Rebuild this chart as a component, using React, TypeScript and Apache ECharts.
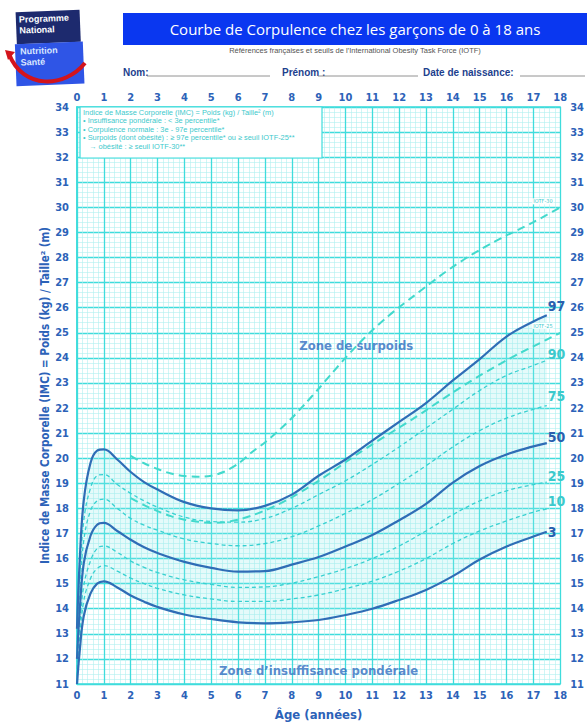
import React, { useEffect, useRef } from "react";
import * as echarts from "echarts";

// ---- Data ----
const ages = [0, 0.1, 0.25, 0.5, 0.75, 1, 1.5, 2, 2.5, 3, 4, 5, 6, 7, 8, 9, 10, 11, 12, 13, 14, 15, 16, 17, 17.5];
const p97 = [13.2, 15.9, 18.3, 19.8, 20.3, 20.35, 19.95, 19.45, 19.05, 18.75, 18.25, 18.0, 17.92, 18.1, 18.55, 19.3, 19.95, 20.7, 21.45, 22.2, 23.1, 23.95, 24.85, 25.45, 25.7];
const p90 = [12.8, 15.2, 17.5, 18.8, 19.3, 19.35, 18.95, 18.6, 18.3, 18.05, 17.65, 17.48, 17.45, 17.6, 18.0, 18.55, 19.1, 19.75, 20.45, 21.2, 21.95, 22.7, 23.3, 23.7, 23.9];
const p75 = [12.4, 14.6, 16.7, 17.9, 18.3, 18.37, 18.0, 17.6, 17.33, 17.13, 16.78, 16.6, 16.51, 16.6, 16.87, 17.3, 17.8, 18.35, 19.0, 19.7, 20.45, 21.1, 21.6, 21.95, 22.1];
const p50 = [12.0, 13.9, 15.8, 16.9, 17.35, 17.42, 17.1, 16.75, 16.45, 16.22, 15.87, 15.63, 15.48, 15.5, 15.76, 16.06, 16.48, 16.94, 17.53, 18.18, 19.03, 19.69, 20.15, 20.47, 20.6];
const p25 = [11.6, 13.3, 14.9, 15.9, 16.4, 16.5, 16.25, 15.9, 15.65, 15.44, 15.15, 14.97, 14.85, 14.87, 15.02, 15.28, 15.6, 16.0, 16.5, 17.1, 17.75, 18.3, 18.7, 18.95, 19.05];
const p10 = [11.3, 12.8, 14.3, 15.2, 15.6, 15.72, 15.5, 15.22, 15.0, 14.81, 14.55, 14.39, 14.29, 14.29, 14.39, 14.55, 14.8, 15.1, 15.5, 16.0, 16.6, 17.1, 17.5, 17.85, 17.98];
const p3 = [11.0, 12.3, 13.7, 14.6, 15.0, 15.09, 14.85, 14.53, 14.28, 14.07, 13.77, 13.59, 13.46, 13.42, 13.46, 13.55, 13.75, 14.0, 14.35, 14.75, 15.3, 15.96, 16.48, 16.88, 17.07];

const iotfAges = [2, 2.5, 3, 3.5, 4, 4.5, 5, 5.5, 6, 6.5, 7, 7.5, 8, 8.5, 9, 9.5, 10, 10.5, 11, 11.5, 12, 12.5, 13, 13.5, 14, 14.5, 15, 15.5, 16, 16.5, 17, 17.5, 18];
const iotf25 = [18.41, 18.13, 17.89, 17.69, 17.55, 17.47, 17.42, 17.45, 17.55, 17.71, 17.92, 18.16, 18.44, 18.76, 19.1, 19.46, 19.84, 20.2, 20.55, 20.89, 21.22, 21.56, 21.91, 22.27, 22.62, 22.96, 23.29, 23.6, 23.9, 24.19, 24.46, 24.73, 25.0];
const iotf30 = [20.09, 19.8, 19.57, 19.39, 19.29, 19.26, 19.3, 19.47, 19.78, 20.23, 20.63, 21.09, 21.6, 22.17, 22.77, 23.39, 24.0, 24.57, 25.1, 25.58, 26.02, 26.43, 26.84, 27.25, 27.63, 27.98, 28.3, 28.6, 28.88, 29.14, 29.41, 29.7, 30.0];

const ageRange = [0, 18];
const bmiRange = [11, 34];

const zoneLabels = [
  { text: "Zone de surpoids", age: 10.4, bmi: 24.5 },
  { text: "Zone d\u2019insuffisance pondérale", age: 9, bmi: 11.55 },
];

const legendLines = [
  "Indice de Masse Corporelle (IMC) = Poids (kg) / Taille\u00b2 (m)",
  "\u2022 Insuffisance pondérale : < 3e percentile*",
  "\u2022 Corpulence normale : 3e - 97e percentile*",
  "\u2022 Surpoids (dont obésité) : \u2265 97e percentile* ou \u2265 seuil IOTF-25**",
  "   \u2192 obésité : \u2265 seuil IOTF-30**",
];

// ---- Styles ----
const DARK = "#2f6db6";
const LIGHT = "#38d0d0";
const CYAN = "#3fdcdc";
const LABEL = "#2c62b8";
const NARROW = "'Liberation Sans Narrow', 'DejaVu Sans Condensed', 'Liberation Sans', sans-serif";

const pair = (xs: number[], ys: number[]) => xs.map((x, i) => [x, ys[i]]);

const percentiles = [
  { name: "3", data: p3, dark: true, off: [0, 0] },
  { name: "10", data: p10, dark: false, off: [0, -8] },
  { name: "25", data: p25, dark: false, off: [0, -6] },
  { name: "50", data: p50, dark: true, off: [0, -6] },
  { name: "75", data: p75, dark: false, off: [0, -10] },
  { name: "90", data: p90, dark: false, off: [0, -6] },
  { name: "97", data: p97, dark: true, off: [0, -9] },
];

function buildOption(): any {
  const series: any[] = [];
  // Band between 3rd and 97th percentile: stacked on the BMI dimension (dim 0)
  series.push({
    name: "base",
    type: "line",
    stack: "band",
    data: ages.map((a, i) => [p3[i], a]),
    encode: { x: 1, y: 0 },
    smooth: 0.4,
    symbol: "none",
    silent: true,
    lineStyle: { width: 0, opacity: 0 },
    z: 1,
  });
  series.push({
    name: "band",
    type: "line",
    stack: "band",
    data: ages.map((a, i) => [p97[i] - p3[i], a]),
    encode: { x: 1, y: 0 },
    smooth: 0.4,
    symbol: "none",
    silent: true,
    lineStyle: { width: 0, opacity: 0 },
    areaStyle: { color: "rgba(150,235,235,0.35)" },
    z: 1,
  });
  percentiles.forEach((p) => {
    series.push({
      name: p.name,
      type: "line",
      data: pair(ages, p.data),
      smooth: 0.4,
      symbol: "none",
      z: p.dark ? 5 : 3,
      lineStyle: p.dark
        ? { color: DARK, width: 2.2 }
        : { color: LIGHT, width: 1.3, type: [4, 3] },
      endLabel: {
        show: true,
        formatter: p.name,
        color: p.dark ? "#2a5fae" : "#3cc9cc",
        fontFamily: NARROW,
        fontWeight: "bold",
        fontSize: 14,
        distance: 1,
        offset: p.off,
      },
    });
  });
  [
    { name: "IOTF-25", data: iotf25, off: [-28, -7] },
    { name: "IOTF-30", data: iotf30, off: [-28, -6] },
  ].forEach((s) => {
    series.push({
      name: s.name,
      type: "line",
      data: pair(iotfAges, s.data),
      smooth: 0.3,
      symbol: "none",
      z: 4,
      lineStyle: { color: "#42d9cc", width: 2, type: [8, 5] },
      endLabel: {
        show: true,
        formatter: s.name,
        color: "#3cc9cc",
        fontFamily: NARROW,
        fontSize: 5.5,
        backgroundColor: "#ffffff",
        padding: [0, 1],
        distance: 0,
        offset: s.off,
      },
    });
  });
  series.push({
    name: "zones",
    type: "scatter",
    data: zoneLabels.map((z) => ({ value: [z.age, z.bmi], name: z.text })),
    symbolSize: 0,
    silent: true,
    z: 6,
    label: {
      show: true,
      position: "inside",
      formatter: (p: any) => p.name,
      color: "#2f6cc0",
      fontFamily: NARROW,
      fontWeight: "bold",
      fontSize: 13,
    },
  });

  const axisLabel = {
    color: LABEL,
    fontFamily: NARROW,
    fontWeight: "bold",
    fontSize: 11,
  };
  const majorSplit = { show: true, lineStyle: { color: CYAN, width: 1.3 } };
  const minorSplit = { show: true, lineStyle: { color: "#b0f0f0", width: 0.6 } };
  const axisLine = { show: true, lineStyle: { color: CYAN, width: 1.6 } };

  const graphic: any[] = [];
  // logo
  graphic.push({
    type: "group",
    x: 3,
    y: 0,
    rotation: 0.04,
    originX: 45,
    originY: 47,
    children: [
      { type: "rect", shape: { x: 14, y: 11, width: 64, height: 32 }, style: { fill: "#1d2a6e" } },
      { type: "rect", shape: { x: 12, y: 43, width: 68, height: 42 }, style: { fill: "#2f55e6" } },
      { type: "text", style: { x: 17, y: 14, text: "Programme", fill: "#ffffff", font: "bold 9px 'Liberation Sans Narrow', sans-serif" } },
      { type: "text", style: { x: 17, y: 25, text: "National", fill: "#ffffff", font: "bold 9px 'Liberation Sans Narrow', sans-serif" } },
      { type: "text", style: { x: 17, y: 46, text: "Nutrition", fill: "#d8e6ff", font: "bold 9px 'Liberation Sans Narrow', sans-serif" } },
      { type: "text", style: { x: 17, y: 57, text: "Santé", fill: "#d8e6ff", font: "bold 9px 'Liberation Sans Narrow', sans-serif" } },
    ],
  });
  graphic.push({
    type: "bezierCurve",
    shape: { x1: 9, y1: 54, cpx1: 23, cpy1: 90, cpx2: 65, cpy2: 88, x2: 85, y2: 63 },
    style: { stroke: "#d3141c", lineWidth: 4, fill: null },
    z: 10,
  });
  graphic.push({
    type: "polygon",
    shape: { points: [[5, 50], [15, 52], [8, 60]] },
    style: { fill: "#d3141c" },
    z: 10,
  });
  // banner
  graphic.push({ type: "rect", shape: { x: 123, y: 13, width: 464, height: 32 }, style: { fill: "#0a37f0" } });
  graphic.push({
    type: "text",
    style: {
      x: 355,
      y: 29,
      text: "Courbe de Corpulence chez les garçons de 0 à 18 ans",
      fill: "#ffffff",
      font: "15px 'Open Sans', sans-serif",
      textAlign: "center",
      textVerticalAlign: "middle",
    },
  });
  graphic.push({
    type: "text",
    style: {
      x: 355,
      y: 50,
      text: "Références françaises et seuils de l\u2019International Obesity Task Force (IOTF)",
      fill: "#555555",
      font: "7.5px 'Liberation Sans', sans-serif",
      textAlign: "center",
      textVerticalAlign: "middle",
    },
  });
  const nameFont = "bold 10px 'Liberation Sans Narrow', sans-serif";
  [
    { t: "Nom:", x: 123, l1: 147, l2: 270 },
    { t: "Prénom :", x: 282, l1: 318, l2: 418 },
    { t: "Date de naissance:", x: 423, l1: 520, l2: 585 },
  ].forEach((n) => {
    graphic.push({ type: "text", style: { x: n.x, y: 72, text: n.t, fill: "#1d3f8e", font: nameFont, textVerticalAlign: "middle" } });
    graphic.push({ type: "line", shape: { x1: n.l1, y1: 76, x2: n.l2, y2: 76 }, style: { stroke: "#777", lineWidth: 0.8 } });
  });
  // legend box inside plot
  graphic.push({
    type: "rect",
    shape: { x: 80, y: 107, width: 242, height: 51 },
    style: { fill: "#ffffff", stroke: CYAN, lineWidth: 1.2 },
    z: 20,
  });
  legendLines.forEach((t, i) => {
    graphic.push({
      type: "text",
      z: 21,
      style: {
        x: 83,
        y: 112.5 + i * 8.4,
        text: t,
        fill: "#3cc9cc",
        font: "7.4px 'Liberation Sans', sans-serif",
        textVerticalAlign: "middle",
      },
    });
  });

  return {
    animation: false,
    backgroundColor: "#ffffff",
    grid: { left: 77, right: 24, top: 107, bottom: 33, show: false },
    xAxis: [
      {
        type: "value",
        min: ageRange[0],
        max: ageRange[1],
        interval: 1,
        position: "bottom",
        name: "Âge (années)",
        nameLocation: "middle",
        nameGap: 24,
        nameTextStyle: { color: LABEL, fontFamily: NARROW, fontWeight: "bold", fontSize: 13 },
        axisLine,
        axisTick: { show: false },
        axisLabel: { ...axisLabel, margin: 6 },
        splitLine: majorSplit,
        minorTick: { show: false, splitNumber: 5 },
        minorSplitLine: minorSplit,
      },
      {
        type: "value",
        min: ageRange[0],
        max: ageRange[1],
        interval: 1,
        position: "top",
        axisLine,
        axisTick: { show: false },
        axisLabel: { ...axisLabel, margin: 4 },
        splitLine: { show: false },
      },
    ],
    yAxis: [
      {
        type: "value",
        min: bmiRange[0],
        max: bmiRange[1],
        interval: 1,
        position: "left",
        name: "Indice de Masse Corporelle (IMC) = Poids (kg) / Taille\u00b2 (m)",
        nameLocation: "middle",
        nameRotate: 90,
        nameGap: 26,
        nameMoveOverlap: false,
        nameTextStyle: { color: LABEL, fontFamily: NARROW, fontWeight: "bold", fontSize: 11.5 },
        axisLine,
        axisTick: { show: false },
        axisLabel: { ...axisLabel, margin: 8 },
        splitLine: majorSplit,
        minorTick: { show: false, splitNumber: 5 },
        minorSplitLine: minorSplit,
      },
      {
        type: "value",
        min: bmiRange[0],
        max: bmiRange[1],
        interval: 1,
        position: "right",
        axisLine,
        axisTick: { show: false },
        axisLabel: { ...axisLabel, margin: 10 },
        splitLine: { show: false },
      },
    ],
    series,
    graphic,
  };
}

export default function App() {
  const ref = useRef<HTMLDivElement>(null);
  useEffect(() => {
    const chart = echarts.init(ref.current as HTMLDivElement, null, { renderer: "svg" });
    chart.setOption(buildOption());
    return () => chart.dispose();
  }, []);
  return (
    <div
      ref={ref}
      style={{ position: "fixed", left: 0, top: 0, width: 587, height: 726, background: "#ffffff" }}
    />
  );
}
